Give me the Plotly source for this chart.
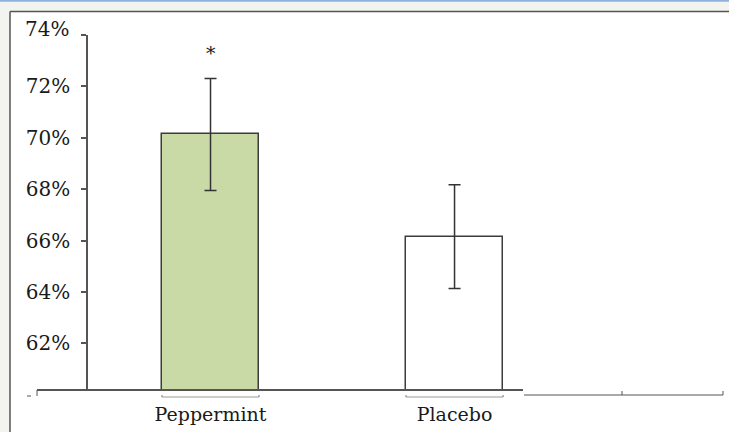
import plotly.graph_objects as go

categories = ["Peppermint", "Placebo"]
means = [70.13, 66.15]
errors = [2.18, 2.02]
bar_colors = ["#c9daa6", "#ffffff"]
y_ticks = [62, 64, 66, 68, 70, 72, 74]
y_tick_labels = ["62%", "64%", "66%", "68%", "70%", "72%", "74%"]
significance = ["*", ""]

W, H = 729, 432
L, R, T, B = 88, 722, 35, 390

def px(xp):
    return (xp - L) / (R - L)

def py(yp):
    return (B - yp) / (B - T)

fig = go.Figure()
fig.add_trace(go.Bar(
    x=categories, y=means, width=0.398,
    marker=dict(color=bar_colors, line=dict(color="#3c3c3c", width=1.5)),
    error_y=dict(type="data", array=errors, visible=True, color="#333333",
                 thickness=1.5, width=6),
    showlegend=False,
))

for i, (c, m, e, s) in enumerate(zip(categories, means, errors, significance)):
    if s:
        fig.add_annotation(x=c, y=m + e + 1.0, text=s, showarrow=False,
                           font=dict(family="DejaVu Serif", size=19, color="#1a1a1a"),
                           yanchor="middle")

# top tick label is drawn nudged upward as in the original (Excel shifts it to avoid clipping)
shown_tick_text = list(y_tick_labels[:-1]) + [""]
fig.add_annotation(xref="paper", yref="paper", x=px(71), y=py(28.5),
                   xanchor="right", yanchor="middle", showarrow=False,
                   text=y_tick_labels[-1],
                   font=dict(family="DejaVu Serif", size=20, color="#1a1a1a"))

shapes = []
# page background white panel with border
shapes.append(dict(type="rect", xref="paper", yref="paper", x0=px(10), x1=px(740),
                   y0=py(12), y1=py(440), fillcolor="white", line=dict(width=0), layer="below"))
shapes.append(dict(type="line", xref="paper", yref="paper", x0=px(10), x1=px(740),
                   y0=py(11.5), y1=py(11.5), line=dict(color="#555555", width=1.5)))
shapes.append(dict(type="line", xref="paper", yref="paper", x0=px(10), x1=px(10),
                   y0=py(11.5), y1=py(440), line=dict(color="#555555", width=1.5)))
shapes.append(dict(type="line", xref="paper", yref="paper", x0=px(0), x1=px(740),
                   y0=py(0.8), y1=py(0.8), line=dict(color="#8fb2e0", width=2)))
# x axis pieces
shapes.append(dict(type="line", xref="paper", yref="paper", x0=px(37), x1=px(523),
                   y0=py(390), y1=py(390), line=dict(color="#555555", width=2)))
shapes.append(dict(type="line", xref="paper", yref="paper", x0=px(524), x1=px(723),
                   y0=py(395), y1=py(395), line=dict(color="#555555", width=1.2)))
for tx in [622, 723]:
    shapes.append(dict(type="line", xref="paper", yref="paper", x0=px(tx), x1=px(tx),
                       y0=py(395), y1=py(391), line=dict(color="#555555", width=1)))
# small stub at left
shapes.append(dict(type="line", xref="paper", yref="paper", x0=px(27), x1=px(31),
                   y0=py(396), y1=py(396), line=dict(color="#555555", width=1)))
shapes.append(dict(type="line", xref="paper", yref="paper", x0=px(37), x1=px(37),
                   y0=py(390), y1=py(396), line=dict(color="#555555", width=1)))
# brackets under bars
for i in range(len(categories)):
    shapes.append(dict(type="line", xref="x", yref="paper", x0=i - 0.199, x1=i + 0.199,
                       y0=py(397), y1=py(397), line=dict(color="#999999", width=1)))
    for dx in (-0.199, 0.199):
        shapes.append(dict(type="line", xref="x", yref="paper", x0=i + dx, x1=i + dx,
                           y0=py(397), y1=py(395), line=dict(color="#777777", width=1)))

fig.update_layout(
    width=W, height=H,
    margin=dict(l=L, r=W - R, t=T, b=H - B),
    paper_bgcolor="#f3f3ef", plot_bgcolor="rgba(0,0,0,0)",
    shapes=shapes,
    bargap=0,
    xaxis=dict(range=[-0.502, 2.096], showline=False, showgrid=False, zeroline=False,
               ticks="", tickfont=dict(family="DejaVu Serif", size=19, color="#1a1a1a"),
               ticklabelstandoff=11),
    yaxis=dict(range=[60.18, 74.0], tickvals=y_ticks, ticktext=shown_tick_text,
               showline=True, linecolor="#555555", linewidth=1.5,
               ticks="outside", ticklen=5, tickcolor="#555555", tickwidth=1.5,
               showgrid=False, zeroline=False, ticklabelstandoff=7,
               tickfont=dict(family="DejaVu Serif", size=20, color="#1a1a1a")),
)

fig.write_html("out.html", config={"displayModeBar": False},
               post_script="document.body.style.margin='0';document.body.style.overflow='hidden';")
